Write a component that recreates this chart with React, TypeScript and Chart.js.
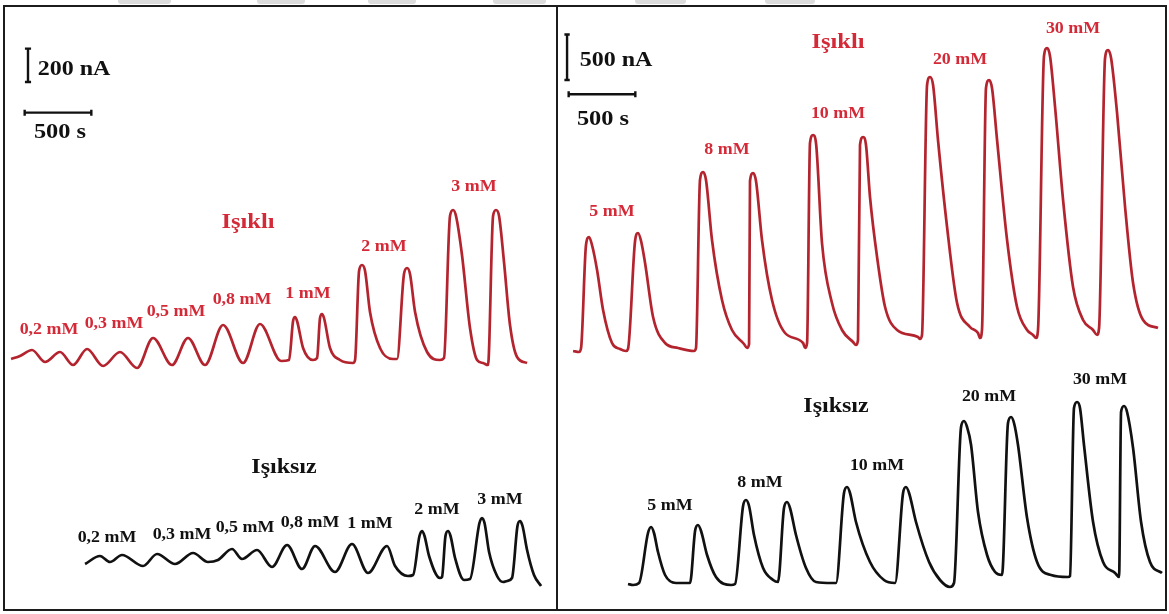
import React, { useEffect, useRef } from "react";
import { Chart, registerables } from "chart.js";

Chart.register(...registerables);

// ---------------- DATA ----------------
// Left panel (0,2 – 3 mM): time in s, current in nA (common frame of the panel)
const LEFT_LIGHT_T = [8, 75, 165, 263, 375, 473, 578, 698, 825, 953, 1073, 1215, 1335, 1463, 1598, 1748, 1875, 2033, 2093, 2123, 2138, 2153, 2198, 2273, 2303, 2325, 2340, 2355, 2400, 2475, 2573, 2588, 2618, 2640, 2663, 2700, 2775, 2873, 2903, 2955, 2978, 3000, 3038, 3128, 3225, 3255, 3300, 3323, 3345, 3390, 3450, 3503, 3548, 3585, 3623, 3645, 3668, 3705, 3750, 3803, 3878];
const LEFT_LIGHT_I = [1446, 1464, 1500, 1428, 1488, 1410, 1506, 1404, 1488, 1392, 1572, 1410, 1572, 1410, 1650, 1422, 1656, 1434, 1440, 1674, 1698, 1674, 1512, 1440, 1452, 1692, 1716, 1692, 1512, 1440, 1422, 1440, 1974, 2010, 1974, 1728, 1512, 1446, 1446, 1956, 1992, 1956, 1728, 1488, 1440, 1452, 2304, 2340, 2304, 2070, 1632, 1440, 1422, 1410, 2304, 2340, 2304, 2028, 1650, 1458, 1422];

const LEFT_DARK_T = [563, 675, 750, 840, 998, 1103, 1238, 1373, 1485, 1560, 1665, 1740, 1853, 1965, 2078, 2190, 2288, 2438, 2565, 2685, 2828, 2888, 2985, 3023, 3071, 3090, 3109, 3143, 3225, 3240, 3266, 3285, 3304, 3338, 3405, 3450, 3521, 3540, 3559, 3593, 3653, 3698, 3728, 3765, 3806, 3825, 3844, 3878, 3930, 3983];
const LEFT_DARK_I = [216, 264, 228, 270, 204, 276, 216, 282, 228, 240, 306, 246, 300, 198, 330, 186, 324, 168, 336, 162, 324, 204, 144, 150, 384, 414, 384, 264, 132, 138, 384, 414, 384, 252, 120, 126, 462, 492, 462, 288, 144, 108, 114, 132, 444, 474, 444, 300, 150, 84];

// Right panel (5 – 30 mM)
const RIGHT_LIGHT_T = [23, 68, 83, 120, 143, 165, 203, 248, 315, 375, 420, 435, 488, 510, 533, 563, 623, 713, 810, 930, 945, 975, 998, 1020, 1065, 1140, 1215, 1305, 1328, 1343, 1350, 1373, 1395, 1440, 1515, 1613, 1748, 1763, 1778, 1800, 1823, 1845, 1890, 1965, 2040, 2123, 2145, 2160, 2175, 2198, 2220, 2250, 2303, 2363, 2453, 2610, 2625, 2640, 2678, 2700, 2723, 2760, 2828, 2903, 3000, 3060, 3075, 3090, 3120, 3143, 3165, 3203, 3278, 3353, 3428, 3473, 3495, 3510, 3555, 3578, 3600, 3638, 3698, 3773, 3848, 3923, 3953, 3968, 4013, 4035, 4058, 4103, 4163, 4223, 4298, 4410];
const RIGHT_LIGHT_I = [2739, 2728, 2772, 3905, 3993, 3905, 3630, 3190, 2827, 2761, 2739, 2761, 3949, 4037, 3949, 3707, 3113, 2827, 2772, 2739, 2772, 4620, 4708, 4620, 3960, 3300, 2970, 2816, 2772, 2816, 4609, 4697, 4609, 3960, 3300, 2937, 2827, 2772, 2827, 5027, 5115, 5027, 3927, 3267, 2970, 2838, 2805, 2860, 5005, 5093, 5005, 4433, 3773, 3223, 2970, 2893, 2871, 2915, 5665, 5753, 5665, 5060, 4103, 3267, 3003, 2937, 2882, 2970, 5632, 5720, 5632, 5060, 3960, 3223, 2970, 2915, 2882, 2970, 5984, 6072, 5984, 5423, 4400, 3443, 3080, 2970, 2915, 2992, 5962, 6050, 5962, 5357, 4323, 3487, 3080, 2992];

const RIGHT_DARK_T = [435, 473, 518, 585, 608, 630, 660, 713, 795, 900, 938, 960, 983, 1028, 1095, 1208, 1238, 1298, 1320, 1343, 1380, 1448, 1523, 1560, 1605, 1628, 1650, 1695, 1770, 1845, 1965, 1995, 2055, 2078, 2100, 2145, 2250, 2355, 2438, 2498, 2520, 2543, 2595, 2693, 2775, 2850, 2880, 2933, 2955, 2978, 3008, 3060, 3128, 3188, 3240, 3285, 3308, 3330, 3360, 3428, 3503, 3608, 3735, 3750, 3780, 3803, 3825, 3855, 3923, 3998, 4088, 4118, 4133, 4155, 4178, 4223, 4283, 4350, 4440];
const RIGHT_DARK_I = [176, 165, 187, 737, 803, 737, 528, 275, 187, 187, 759, 825, 759, 495, 253, 165, 176, 1034, 1100, 1034, 715, 352, 220, 198, 1012, 1078, 1012, 715, 352, 198, 187, 187, 1177, 1243, 1177, 858, 418, 220, 187, 1177, 1243, 1177, 858, 418, 220, 143, 187, 1903, 1969, 1903, 1705, 968, 495, 308, 275, 1947, 2013, 1947, 1705, 902, 418, 275, 253, 264, 2112, 2178, 2112, 1705, 858, 418, 297, 253, 2068, 2134, 2068, 1672, 858, 418, 297];

// Labels
const LEFT_CONC = ["0,2 mM", "0,3 mM", "0,5 mM", "0,8 mM", "1 mM", "2 mM", "3 mM"];
const RIGHT_CONC = ["5 mM", "8 mM", "10 mM", "20 mM", "30 mM"];
const TITLE_LIGHT = "Işıklı";
const TITLE_DARK = "Işıksız";

// Scale bars (values)
const SCALE_TIME_S = 500;
const LEFT_SCALE_NA = 200;
const RIGHT_SCALE_NA = 500;

// ---------------- LAYOUT / STYLE ----------------
const RED_TRACE = "#b3242e";
const RED_TEXT = "#d42a38";
const BLACK = "#111111";

const LEFT_AXIS = { xMin: -37.5, xMax: 4095, yMin: -54, yMax: 3558 };
const RIGHT_AXIS = { xMin: -82.5, xMax: 4462.5, yMin: -99, yMax: 6523 };

const LEFT_BAR = { vx: 135, vy: 3108, cap: 23, hx: 110, hy: 2924, hcap: 18 };
const RIGHT_BAR = { vx: -22, vy: 5720, cap: 20, hx: -10, hy: 5563, hcap: 33 };

const LEFT_LIGHT_POS = [[49, 329], [114, 323], [176, 311], [242, 299], [308, 293], [384, 246], [474, 186]];
const LEFT_DARK_POS = [[107, 537], [182, 534], [245, 527], [310, 522], [370, 523], [437, 509], [500, 499]];
const RIGHT_LIGHT_POS = [[612, 211], [727, 149], [838, 113], [960, 59], [1073, 28]];
const RIGHT_DARK_POS = [[670, 505], [760, 482], [877, 465], [989, 396], [1100, 379]];

type Pt = { x: number; y: number | null };

function toPoints(t: number[], v: number[]): Pt[] {
  return t.map((x, i) => ({ x, y: v[i] }));
}

function scaleBar(b: typeof LEFT_BAR, nA: number): Pt[] {
  return [
    { x: b.vx - b.cap, y: b.vy + nA },
    { x: b.vx + b.cap, y: b.vy + nA },
    { x: b.vx, y: null },
    { x: b.vx, y: b.vy + nA },
    { x: b.vx, y: b.vy },
    { x: b.vx, y: null },
    { x: b.vx - b.cap, y: b.vy },
    { x: b.vx + b.cap, y: b.vy },
    { x: b.vx + b.cap, y: null },
    { x: b.hx, y: b.hy + b.hcap },
    { x: b.hx, y: b.hy - b.hcap },
    { x: b.hx, y: null },
    { x: b.hx, y: b.hy },
    { x: b.hx + SCALE_TIME_S, y: b.hy },
    { x: b.hx + SCALE_TIME_S, y: null },
    { x: b.hx + SCALE_TIME_S, y: b.hy + b.hcap },
    { x: b.hx + SCALE_TIME_S, y: b.hy - b.hcap },
  ];
}

function traceDs(data: Pt[], color: string) {
  return {
    data,
    borderColor: color,
    borderWidth: 2.7,
    pointRadius: 0,
    fill: false,
    cubicInterpolationMode: "monotone" as const,
    spanGaps: false,
    borderJoinStyle: "round" as const,
  };
}

function barDs(data: Pt[]) {
  return {
    data,
    borderColor: BLACK,
    borderWidth: 2.4,
    pointRadius: 0,
    fill: false,
    tension: 0,
    spanGaps: false,
  };
}

function Panel(props: { left: number; width: number; axis: typeof LEFT_AXIS; datasets: any[] }) {
  const ref = useRef<HTMLCanvasElement | null>(null);
  useEffect(() => {
    if (!ref.current) return;
    const chart = new Chart(ref.current, {
      type: "line",
      data: { datasets: props.datasets },
      options: {
        animation: false,
        responsive: false,
        maintainAspectRatio: false,
        events: [],
        layout: { padding: 0 },
        plugins: { legend: { display: false }, tooltip: { enabled: false } },
        scales: {
          x: { type: "linear", min: props.axis.xMin, max: props.axis.xMax, display: false },
          y: { type: "linear", min: props.axis.yMin, max: props.axis.yMax, display: false },
        },
      },
    });
    return () => chart.destroy();
  }, []);
  return (
    <canvas
      ref={ref}
      width={props.width}
      height={602}
      style={{ position: "absolute", left: props.left, top: 7, width: props.width, height: 602 }}
    />
  );
}

function Label(props: { text: string; cx: number; cy: number; size: number; sx: number; color: string }) {
  return (
    <div
      style={{
        position: "absolute",
        left: props.cx,
        top: props.cy,
        fontSize: props.size,
        lineHeight: 1,
        whiteSpace: "nowrap",
        color: props.color,
        transform: `translate(-50%, -50%) scaleX(${props.sx})`,
      }}
    >
      {props.text}
    </div>
  );
}

const BLOBS = [[118, 53], [257, 48], [368, 48], [493, 53], [635, 51], [765, 50]];

export default function App() {
  const leftSets = [
    traceDs(toPoints(LEFT_LIGHT_T, LEFT_LIGHT_I), RED_TRACE),
    traceDs(toPoints(LEFT_DARK_T, LEFT_DARK_I), BLACK),
    barDs(scaleBar(LEFT_BAR, LEFT_SCALE_NA)),
  ];
  const rightSets = [
    traceDs(toPoints(RIGHT_LIGHT_T, RIGHT_LIGHT_I), RED_TRACE),
    traceDs(toPoints(RIGHT_DARK_T, RIGHT_DARK_I), BLACK),
    barDs(scaleBar(RIGHT_BAR, RIGHT_SCALE_NA)),
  ];
  const conc = 16;
  const csx = 1.12;
  return (
    <div
      style={{
        position: "fixed",
        left: 0,
        top: 0,
        width: 1169,
        height: 614,
        background: "#ffffff",
        overflow: "hidden",
        fontFamily: '"Liberation Serif", "Times New Roman", serif',
        fontWeight: "bold",
      }}
    >
      {BLOBS.map(([x, w], i) => (
        <div key={i} style={{ position: "absolute", left: x, top: -2, width: w, height: 6, background: "#dcdcdc", borderRadius: 3 }} />
      ))}
      <div style={{ position: "absolute", left: 3, top: 5, width: 1164, height: 606, border: "2px solid #1c1c1c", boxSizing: "border-box" }} />
      <div style={{ position: "absolute", left: 556, top: 5, width: 2, height: 606, background: "#1c1c1c" }} />
      <Panel left={5} width={551} axis={LEFT_AXIS} datasets={leftSets} />
      <Panel left={559} width={606} axis={RIGHT_AXIS} datasets={rightSets} />

      <Label text={`${LEFT_SCALE_NA} nA`} cx={74} cy={68} size={20} sx={1.2} color={BLACK} />
      <Label text={`${SCALE_TIME_S} s`} cx={60} cy={131} size={20} sx={1.22} color={BLACK} />
      <Label text={`${RIGHT_SCALE_NA} nA`} cx={616} cy={59} size={20} sx={1.2} color={BLACK} />
      <Label text={`${SCALE_TIME_S} s`} cx={603} cy={118} size={20} sx={1.22} color={BLACK} />

      <Label text={TITLE_LIGHT} cx={248} cy={221} size={20} sx={1.22} color={RED_TEXT} />
      <Label text={TITLE_DARK} cx={284} cy={466} size={20} sx={1.2} color={BLACK} />
      <Label text={TITLE_LIGHT} cx={838} cy={41} size={20} sx={1.22} color={RED_TEXT} />
      <Label text={TITLE_DARK} cx={836} cy={405} size={20} sx={1.2} color={BLACK} />

      {LEFT_CONC.map((t, i) => (
        <Label key={"ll" + i} text={t} cx={LEFT_LIGHT_POS[i][0]} cy={LEFT_LIGHT_POS[i][1]} size={conc} sx={csx} color={RED_TEXT} />
      ))}
      {LEFT_CONC.map((t, i) => (
        <Label key={"ld" + i} text={t} cx={LEFT_DARK_POS[i][0]} cy={LEFT_DARK_POS[i][1]} size={conc} sx={csx} color={BLACK} />
      ))}
      {RIGHT_CONC.map((t, i) => (
        <Label key={"rl" + i} text={t} cx={RIGHT_LIGHT_POS[i][0]} cy={RIGHT_LIGHT_POS[i][1]} size={conc} sx={csx} color={RED_TEXT} />
      ))}
      {RIGHT_CONC.map((t, i) => (
        <Label key={"rd" + i} text={t} cx={RIGHT_DARK_POS[i][0]} cy={RIGHT_DARK_POS[i][1]} size={conc} sx={csx} color={BLACK} />
      ))}
    </div>
  );
}
